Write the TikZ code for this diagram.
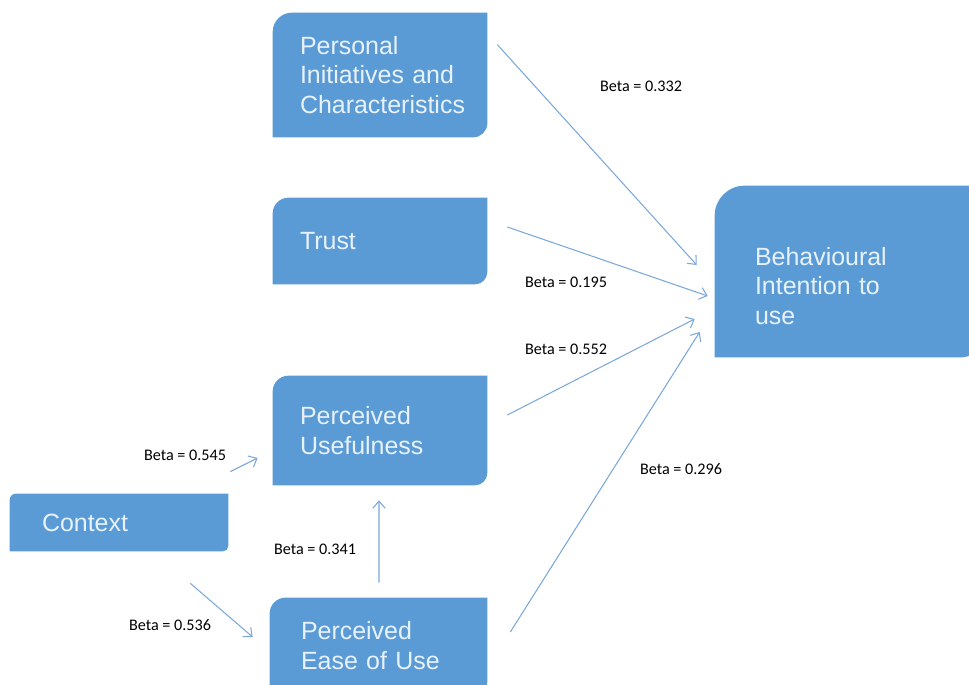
\documentclass[tikz,border=0pt]{standalone}
\usepackage{fontspec}
\setmainfont{Liberation Sans}
\newfontfamily\betafont{Carlito}
\usetikzlibrary{arrows.meta,backgrounds}
\definecolor{boxblu}{RGB}{91,155,213}
\definecolor{frecciablu}{RGB}{122,168,218}
\definecolor{testochiaro}{RGB}{232,242,252}
\tikzset{
    blocco/.style={inner sep=0pt, text width=#1, align=left, text=testochiaro, font=\fontsize{14.2}{17}\selectfont},
    freccia/.style={frecciablu, line width=0.6pt, -{Straight Barb[length=4pt,width=7pt]}},
    beta/.style={font=\betafont\fontsize{9.2}{11}\selectfont, text=black}
}
%riempimento: nodo, raggio alto sx, raggio basso dx
\newcommand\riempi[3]{%
    \fill[boxblu] (#1.south west) -- ([yshift=-#2]#1.north west) arc[start angle=180,end angle=90,radius=#2] -- (#1.north east) -- ([yshift=#3]#1.south east) arc[start angle=0,end angle=-90,radius=#3] -- cycle;}
\begin{document}
\begin{tikzpicture}[x=0.02cm,y=-0.02cm]
    \useasboundingbox (0,0) rectangle (969,685);
    %riquadri
    \node[blocco=3.2cm, minimum width=4.28cm, minimum height=2.48cm] (pic) at (380,75) {Personal\\Initiatives and\\Characteristics};
    \node[blocco=3.2cm, minimum width=4.28cm, minimum height=1.72cm] (trust) at (380,241) {Trust};
    \node[blocco=3.2cm, minimum width=4.28cm, minimum height=2.18cm] (pu) at (380,430.5) {Perceived\\Usefulness};
    \node[blocco=3.1cm, minimum width=4.34cm, minimum height=1.92cm] (peou) at (378.5,646) {Perceived\\Ease of Use};
    \node[blocco=3.08cm, minimum width=4.36cm, minimum height=1.14cm] (ctx) at (119,522.5) {Context};
    \node[inner sep=0pt, minimum width=5.2cm, minimum height=3.42cm] (bi) at (845,271.5) {};
    \node[blocco=3.6cm] (bitesto) at ([yshift=-0.29cm]bi.center) {Behavioural\\Intention to\\use};
    %sfondi
    \begin{scope}[on background layer]
        \riempi{pic}{11pt}{8pt}
        \riempi{trust}{9pt}{7pt}
        \riempi{pu}{9pt}{7pt}
        \riempi{peou}{9pt}{7pt}
        \riempi{ctx}{3.5pt}{3pt}
        \riempi{bi}{17pt}{7pt}
    \end{scope}
    %frecce
    \draw[freccia] ([shift={(10,32)}]pic.north east) -- ([shift={(-18,-6.5)}]bi.west);
    \draw[freccia] ([shift={(20,-14)}]trust.east) -- ([shift={(-7,24.5)}]bi.west);
    \draw[freccia] ([shift={(20,-15.5)}]pu.east) -- ([shift={(-20,47.5)}]bi.west);
    \draw[freccia] ([shift={(23,-14)}]peou.east) -- ([shift={(-15,60.5)}]bi.west);
    \draw[freccia] ([shift={(2,-22)}]ctx.north east) -- ([shift={(-15,27.5)}]pu.west);
    \draw[freccia] ([shift={(-38,32)}]ctx.south east) -- ([shift={(-17,-9)}]peou.west);
    \draw[freccia] ([shift={(0.5,-15)}]peou.north) -- ([shift={(-1,15)}]pu.south);
    %valori beta
    \node[beta] (b1) at (641,86) {Beta = 0.332};
    \node[beta] (b2) at (566,282) {Beta = 0.195};
    \node[beta] (b3) at (566,349) {Beta = 0.552};
    \node[beta] (b4) at (681,469) {Beta = 0.296};
    \node[beta] (b5) at (185,455) {Beta = 0.545};
    \node[beta] (b6) at (315,549) {Beta = 0.341};
    \node[beta] (b7) at (170,625) {Beta = 0.536};
\end{tikzpicture}
\end{document}
